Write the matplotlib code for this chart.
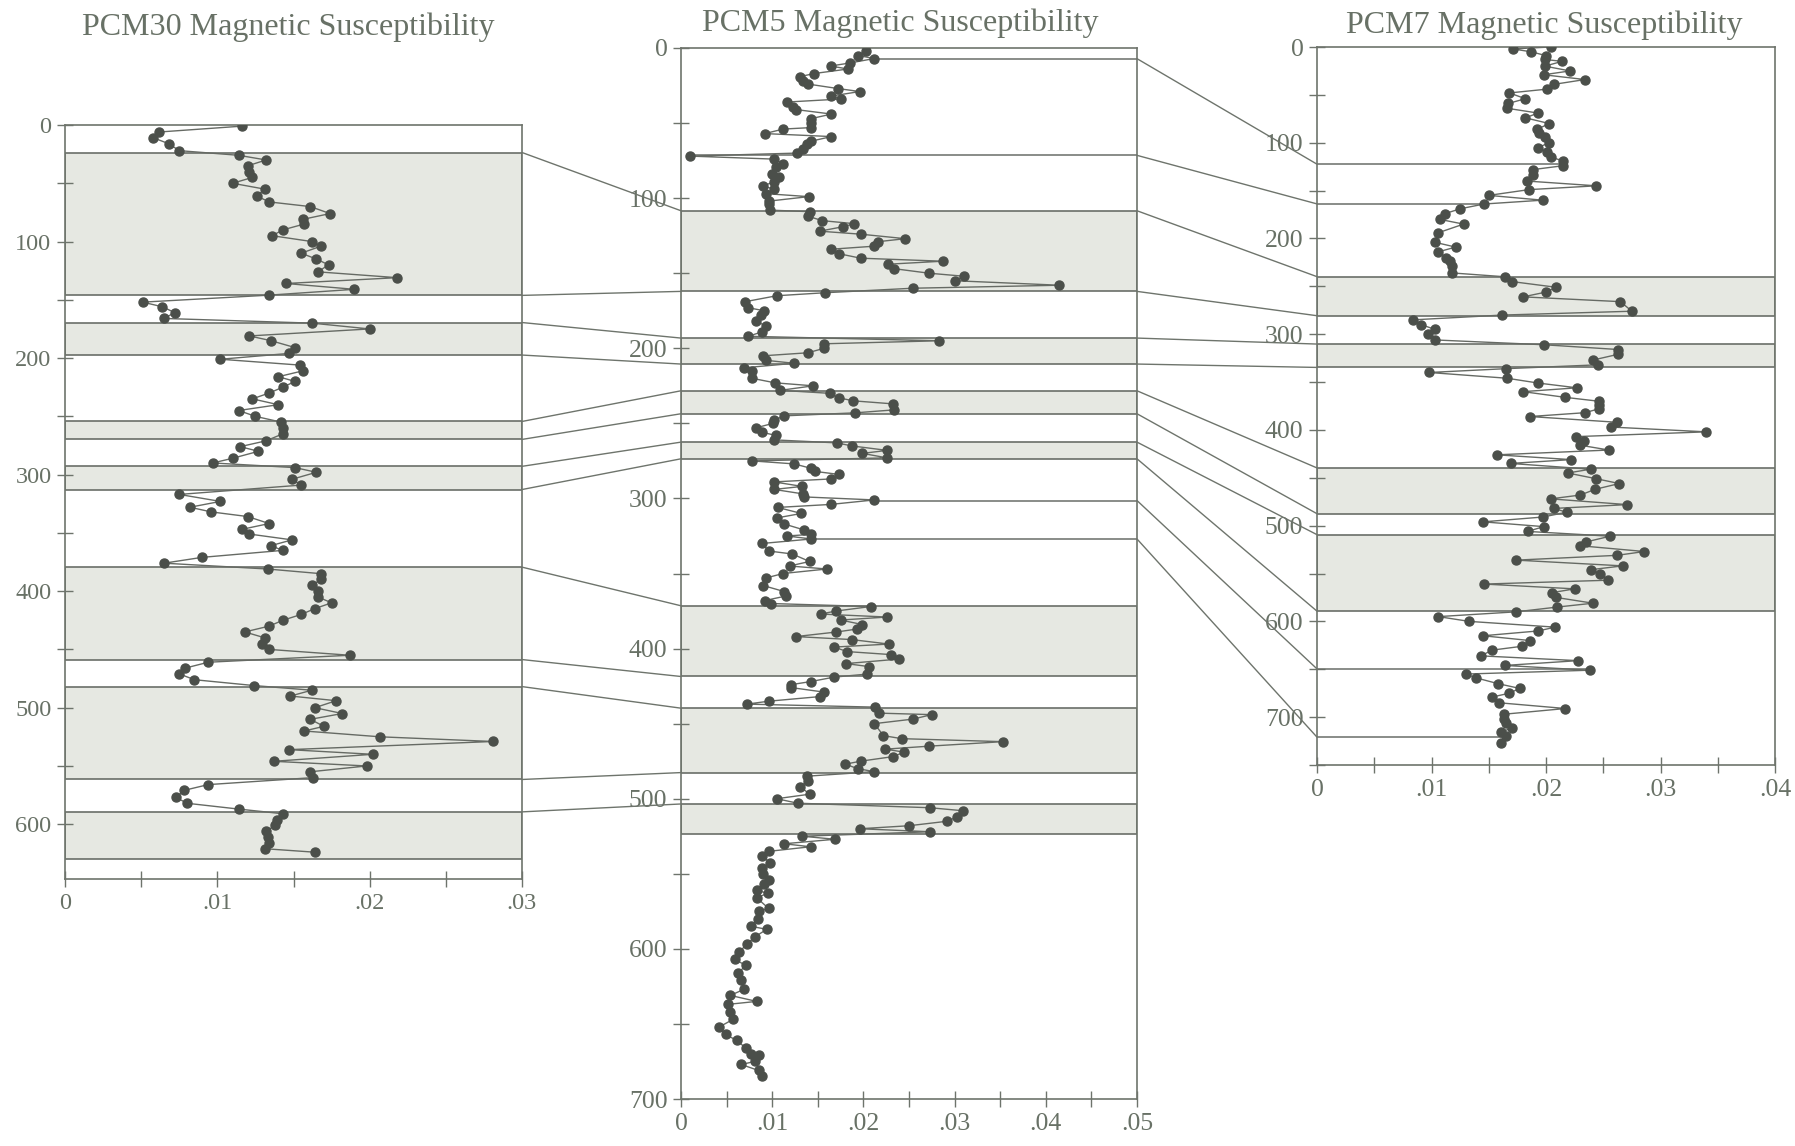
import matplotlib
matplotlib.use("Agg")
import matplotlib.pyplot as plt
from matplotlib.patches import ConnectionPatch
from matplotlib.ticker import MultipleLocator, FuncFormatter

# PCM30 core: depth and magnetic susceptibility
pcm30_depth = [1, 6, 11, 16, 22, 26, 30, 35, 40, 45,
               50, 55, 61, 66, 70, 76, 81, 85, 90, 95,
               100, 104, 110, 115, 120, 126, 131, 136, 141, 146,
               152, 156, 161, 166, 170, 175, 181, 185, 191, 196,
               201, 206, 211, 216, 220, 225, 230, 235, 240, 245,
               250, 255, 260, 265, 271, 276, 280, 286, 290, 294,
               298, 304, 309, 317, 323, 328, 332, 336, 342, 347,
               351, 356, 361, 365, 371, 376, 381, 385, 390, 395,
               400, 405, 410, 415, 420, 425, 430, 435, 440, 445,
               450, 455, 461, 466, 471, 476, 481, 485, 490, 494,
               500, 505, 510, 516, 520, 525, 529, 536, 540, 546,
               550, 555, 560, 566, 571, 577, 582, 587, 591, 596,
               601, 606, 611, 616, 621, 624]
pcm30_value = [.0116, .0062, .0058, .0068, .0075, .0114, .0132, .0120, .0121, .0123,
               .0110, .0131, .0126, .0134, .0161, .0174, .0156, .0157, .0143, .0136,
               .0162, .0168, .0155, .0165, .0173, .0166, .0218, .0145, .0190, .0134,
               .0051, .0064, .0072, .0065, .0162, .0200, .0121, .0135, .0151, .0147,
               .0102, .0154, .0156, .0140, .0151, .0143, .0134, .0123, .0140, .0114,
               .0125, .0142, .0143, .0143, .0132, .0115, .0127, .0110, .0097, .0151,
               .0165, .0149, .0155, .0075, .0102, .0082, .0096, .0120, .0134, .0116,
               .0121, .0149, .0135, .0143, .0090, .0065, .0133, .0168, .0168, .0162,
               .0166, .0166, .0175, .0164, .0155, .0143, .0134, .0118, .0131, .0129,
               .0134, .0187, .0094, .0079, .0075, .0085, .0124, .0162, .0148, .0178,
               .0164, .0182, .0161, .0170, .0157, .0207, .0281, .0147, .0202, .0137,
               .0198, .0161, .0163, .0094, .0078, .0073, .0080, .0114, .0143, .0139,
               .0138, .0132, .0133, .0134, .0131, .0164]

# PCM5 core
pcm5_depth = [2, 5, 7, 10, 12, 14, 17, 19, 22, 24,
              27, 29, 32, 34, 36, 39, 41, 44, 47, 50,
              53, 54, 57, 59, 62, 64, 67, 70, 72, 74,
              77, 79, 84, 86, 89, 92, 94, 97, 99, 102,
              104, 108, 109, 112, 115, 117, 119, 122, 124, 127,
              129, 132, 134, 137, 140, 142, 144, 147, 150, 152,
              155, 158, 160, 163, 165, 169, 173, 175, 178, 182,
              185, 189, 192, 195, 197, 200, 203, 205, 208, 210,
              213, 215, 220, 223, 225,
              228, 230, 233, 235, 237, 241, 243, 245, 248, 250,
              253, 256, 258, 261, 263, 265, 268, 270, 273, 275,
              277, 280, 282, 284, 287, 289, 292, 294, 297, 299,
              301, 304, 306, 310, 313, 317, 321, 324, 325, 327,
              330, 335, 337, 342, 345, 347, 350, 353, 358, 362,
              365, 368, 370, 372, 375, 377, 379, 381, 384, 387,
              389, 392, 394, 397, 399, 402, 404, 407, 410, 412,
              417, 419, 422, 424, 426, 429, 432, 435, 437, 439,
              443, 444, 447, 450,
              458, 460, 462, 465, 467, 469, 472, 475, 477, 480,
              482, 485, 488, 492, 497, 500, 503, 506, 508, 512,
              515, 518, 520, 522, 525, 527, 530, 532, 535, 538,
              543, 546, 550, 554, 557, 561, 563, 566, 573, 575,
              580, 585, 587, 592, 597, 602, 607, 611, 616, 621,
              627, 631, 635, 637, 642, 647, 652, 657, 661, 666,
              670, 671, 675, 677, 681, 685]
pcm5_value = [.0203, .0194, .0212, .0185, .0164, .0183, .0146, .0131, .0134, .0139,
              .0172, .0196, .0165, .0175, .0116, .0123, .0126, .0165, .0143, .0143,
              .0143, .0112, .0092, .0165, .0143, .0138, .0134, .0127, .0010, .0102,
              .0112, .0104, .0100, .0107, .0102, .0090, .0102, .0093, .0140, .0096,
              .0097, .0098, .0141, .0139, .0155, .0190, .0178, .0152, .0197, .0246,
              .0216, .0212, .0165, .0173, .0197, .0287, .0227, .0234, .0272, .0310,
              .0300, .0415, .0254, .0158, .0105, .0070, .0074, .0091, .0088, .0082,
              .0093, .0089, .0074, .0283, .0157, .0157, .0139, .0090, .0093, .0124,
              .0069, .0078, .0078, .0103, .0145,
              .0109, .0163, .0173, .0189, .0232, .0234, .0191, .0113, .0102, .0101,
              .0082, .0089, .0104, .0102, .0171, .0187, .0226, .0199, .0226, .0078,
              .0124, .0143, .0147, .0173, .0165, .0102, .0133, .0102, .0134, .0135,
              .0212, .0164, .0106, .0132, .0105, .0113, .0135, .0142, .0116, .0143,
              .0089, .0096, .0122, .0141, .0119, .0160, .0112, .0093, .0090, .0113,
              .0115, .0092, .0099, .0208, .0170, .0153, .0226, .0175, .0199, .0193,
              .0170, .0126, .0187, .0228, .0168, .0182, .0230, .0239, .0181, .0206,
              .0204, .0168, .0142, .0121, .0121, .0157, .0152, .0097, .0072, .0213,
              .0217, .0275, .0254, .0212,
              .0222, .0242, .0353, .0272, .0224, .0245, .0232, .0197, .0180, .0194,
              .0212, .0138, .0139, .0131, .0141, .0105, .0128, .0273, .0309, .0303,
              .0292, .0250, .0196, .0273, .0133, .0169, .0113, .0142, .0097, .0089,
              .0098, .0089, .0090, .0097, .0091, .0083, .0095, .0083, .0096, .0086,
              .0084, .0077, .0094, .0081, .0072, .0064, .0059, .0071, .0063, .0066,
              .0069, .0054, .0083, .0051, .0054, .0057, .0042, .0049, .0061, .0071,
              .0077, .0085, .0081, .0066, .0085, .0089]

# PCM7 core
pcm7_depth = [0, 2, 5, 9, 13, 15, 20, 25, 29, 34,
              39, 44, 48, 54, 59, 64, 69, 74, 80, 86,
              90, 94, 100, 105, 110, 115, 119, 124, 128, 134,
              140, 145, 149, 155, 160, 164, 169, 174, 180, 185,
              194, 204, 209, 214, 220, 224, 229, 236, 240, 245,
              251, 256, 261, 266, 276, 280, 285, 290, 295, 300,
              306, 311, 316, 321, 327, 332, 336, 340, 346, 351,
              356, 360, 366, 370, 374, 378, 382, 386, 392, 397,
              402, 407, 412, 416, 421, 426, 431, 435, 441, 445,
              451, 456, 462, 468, 472, 478, 482, 486, 491, 496,
              501, 506, 511, 517, 521, 527, 531, 536, 542, 546,
              550, 557, 561, 566, 570, 575, 581, 585, 590, 595,
              600, 606, 610, 615, 620, 626, 630, 636, 641, 646,
              651, 655, 659, 665, 670, 675, 679, 685, 691, 697,
              702, 706, 711, 716, 720, 727]
pcm7_value = [.0204, .0171, .0187, .0200, .0199, .0214, .0199, .0221, .0198, .0234,
              .0207, .0201, .0168, .0182, .0167, .0166, .0193, .0182, .0203, .0192,
              .0194, .0199, .0203, .0193, .0201, .0204, .0215, .0215, .0189, .0189,
              .0183, .0244, .0185, .0150, .0197, .0146, .0125, .0112, .0107, .0128,
              .0106, .0103, .0121, .0106, .0113, .0116, .0118, .0118, .0164, .0170,
              .0209, .0200, .0180, .0265, .0275, .0162, .0084, .0091, .0103, .0097,
              .0103, .0198, .0263, .0263, .0241, .0245, .0165, .0098, .0166, .0193,
              .0227, .0180, .0217, .0246, .0246, .0246, .0234, .0186, .0262, .0257,
              .0340, .0226, .0233, .0230, .0255, .0157, .0222, .0169, .0239, .0219,
              .0244, .0264, .0243, .0230, .0204, .0271, .0207, .0218, .0197, .0145,
              .0198, .0184, .0256, .0235, .0230, .0286, .0262, .0174, .0267, .0239,
              .0247, .0254, .0146, .0225, .0205, .0209, .0241, .0210, .0174, .0106,
              .0133, .0208, .0193, .0145, .0186, .0179, .0153, .0143, .0228, .0164,
              .0238, .0130, .0139, .0158, .0177, .0168, .0153, .0159, .0217, .0163,
              .0163, .0165, .0170, .0161, .0165, .0161]

# shaded correlation intervals (top, bottom depth)
pcm30_band_top = [23.6, 169.5, 254.4, 292.9, 379.4, 481.9, 589.4]
pcm30_band_bottom = [146.2, 197.4, 269.8, 312.8, 458.7, 561.6, 630.0]
pcm5_band_top = [108.4, 193.2, 228.3, 262.5, 371.5, 439.7, 503.5]
pcm5_band_bottom = [162.1, 210.5, 243.6, 273.6, 418.6, 482.6, 523.7]
pcm7_band_top = [239.9, 310.3, 439.7, 509.4]
pcm7_band_bottom = [280.7, 334.7, 487.5, 589.3]

# single tie lines (depth, x where the line stops at the curve)
pcm5_tie_depth = [7.1, 71.5, 301.4, 327.0]
pcm5_tie_from = [.0212, .0010, .0212, .0143]
pcm7_tie_depth = [122.4, 163.9, 649.6, 720.9]
pcm7_tie_to = [.0215, .0146, .0238, .0161]

# correlation links between cores
link_pcm30_a = [23.6, 146.2, 169.5, 197.4, 254.4, 269.8, 292.9, 312.8,
                379.4, 458.7, 481.9, 561.6, 589.4, 657.0]
link_pcm5_a = [108.4, 162.1, 193.2, 210.5, 228.3, 243.6, 262.5, 273.6,
               371.5, 418.6, 439.7, 482.6, 503.5, 523.7]
link_pcm5_b = [7.1, 71.5, 108.4, 162.1, 193.2, 210.5, 228.3, 243.6,
               262.5, 273.6, 301.4, 327.0]
link_pcm7_b = [122.4, 163.9, 239.9, 280.7, 310.3, 334.7, 439.7, 487.5,
               509.4, 589.3, 649.6, 720.9]

W, H = 1795, 1146
TXT = '#687166'
LINE = '#6e746c'
SERIF = ['Liberation Serif', 'DejaVu Serif']

fig = plt.figure(figsize=(W / 100, H / 100), dpi=100)


def px_axes(l, r, t, b):
    return fig.add_axes([l / W, 1 - b / H, (r - l) / W, (b - t) / H])


def fmt(v, pos):
    return '0' if abs(v) < 1e-9 else f'{v:.2f}'.lstrip('0')


def style_panel(ax, xmax, ymax, fs):
    ax.set_xlim(0, xmax)
    ax.set_ylim(ymax, 0)
    ax.xaxis.set_major_locator(MultipleLocator(0.01))
    ax.xaxis.set_minor_locator(MultipleLocator(0.005))
    ax.yaxis.set_major_locator(MultipleLocator(100))
    ax.yaxis.set_minor_locator(MultipleLocator(50))
    ax.xaxis.set_major_formatter(FuncFormatter(fmt))
    ax.set_yticks([t for t in range(0, 701, 100) if t <= ymax])
    ax.tick_params(which='both', direction='inout', length=11.5, width=1,
                   color=LINE, labelcolor=TXT, labelsize=fs, pad=4)
    for lab in ax.get_xticklabels() + ax.get_yticklabels():
        lab.set_family(SERIF)
    for sp in ax.spines.values():
        sp.set_color(LINE)
        sp.set_linewidth(1.2)


def draw_core(ax, depth, value, tops, bottoms):
    for t, b in zip(tops, bottoms, strict=True):
        ax.axhspan(t, b, facecolor='#e6e8e2', edgecolor='#6a6e68', lw=1.2, zorder=1)
    ax.plot(value, depth, '-', color='#666a64', lw=1, zorder=3)
    ax.plot(value, depth, 'o', color='#4b4f4a', ms=6.5, zorder=4)


ax1 = px_axes(65, 522, 125, 879)
ax2 = px_axes(681, 1137, 48, 1099)
ax3 = px_axes(1317, 1775, 47, 765)

draw_core(ax1, pcm30_depth, pcm30_value, pcm30_band_top, pcm30_band_bottom)
draw_core(ax2, pcm5_depth, pcm5_value, pcm5_band_top, pcm5_band_bottom)
draw_core(ax3, pcm7_depth, pcm7_value, pcm7_band_top, pcm7_band_bottom)

style_panel(ax1, 0.03, 647, 17.5)
style_panel(ax2, 0.05, 700, 18.5)
style_panel(ax3, 0.04, 750, 18.5)

for d, x0 in zip(pcm5_tie_depth, pcm5_tie_from, strict=True):
    ax2.plot([x0, 0.05], [d, d], color='#6a6e68', lw=1.1, zorder=2)
for d, x1 in zip(pcm7_tie_depth, pcm7_tie_to, strict=True):
    ax3.plot([0, x1], [d, d], color='#6a6e68', lw=1.1, zorder=2)

# tie lines between the panels
for da, db in zip(link_pcm30_a, link_pcm5_a, strict=True):
    con = ConnectionPatch(xyA=(0.03, da), coordsA='data', axesA=ax1,
                          xyB=(0, db), coordsB='data', axesB=ax2,
                          color=LINE, lw=1.0)
    con.set_clip_on(False)
    fig.add_artist(con)
for da, db in zip(link_pcm5_b, link_pcm7_b, strict=True):
    con = ConnectionPatch(xyA=(0.05, da), coordsA='data', axesA=ax2,
                          xyB=(0, db), coordsB='data', axesB=ax3,
                          color=LINE, lw=1.0)
    con.set_clip_on(False)
    fig.add_artist(con)

fig.text(288 / W, 1 - 35 / H, 'PCM30 Magnetic Susceptibility', ha='center',
         va='baseline', fontsize=23, color=TXT, family=SERIF)
fig.text(900 / W, 1 - 31 / H, 'PCM5 Magnetic Susceptibility', ha='center',
         va='baseline', fontsize=23, color=TXT, family=SERIF)
fig.text(1544 / W, 1 - 33 / H, 'PCM7 Magnetic Susceptibility', ha='center',
         va='baseline', fontsize=23, color=TXT, family=SERIF)

fig.savefig('out.png', dpi=100, facecolor='white')
